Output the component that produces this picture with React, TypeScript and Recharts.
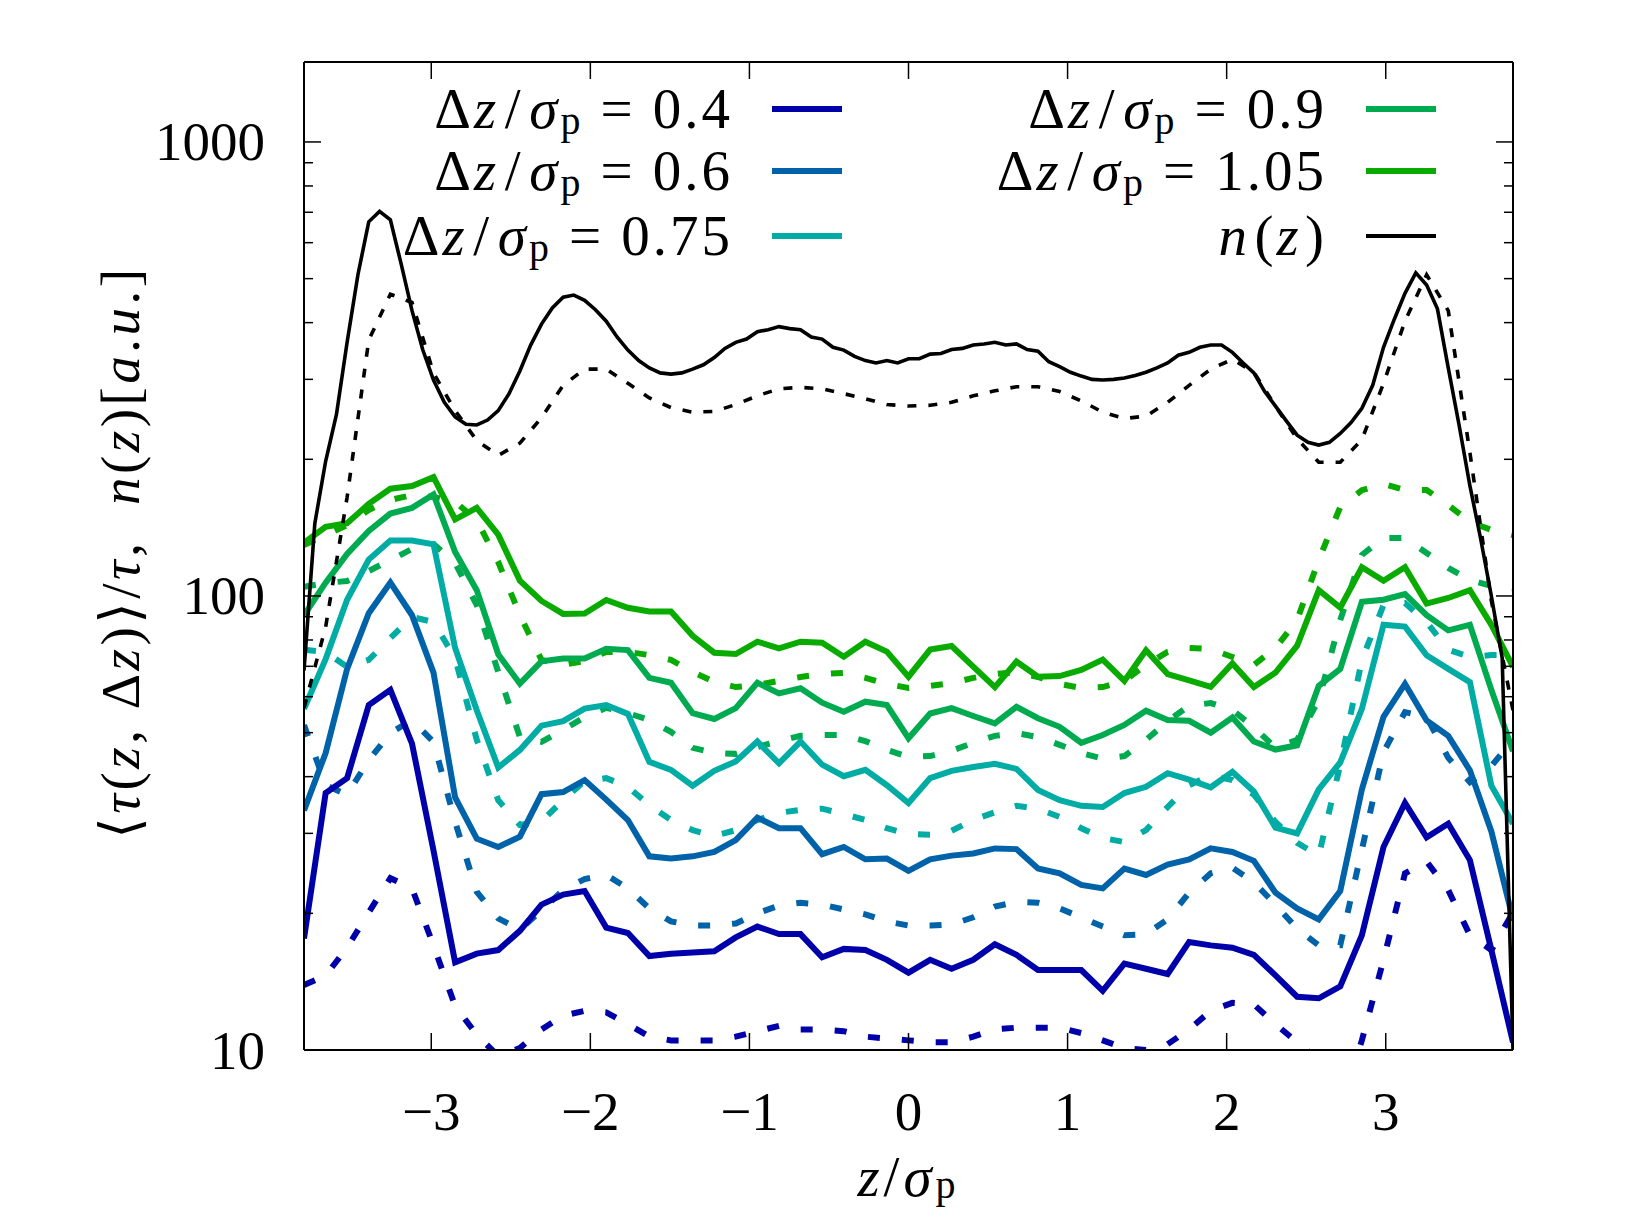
import React from 'react';
import { LineChart, Line, XAxis, YAxis, Legend } from 'recharts';

const FONT = '"Liberation Serif", "DejaVu Serif", serif';
const FS = 55;
const LFS = 57;

// z / sigma_p grid of the tau curves
const Z57 = [
  -3.8, -3.664, -3.529, -3.393, -3.257, -3.121, -2.986, -2.85, -2.714, -2.579,
  -2.443, -2.307, -2.171, -2.036, -1.9, -1.764, -1.629, -1.493, -1.357, -1.221,
  -1.086, -0.95, -0.814, -0.679, -0.543, -0.407, -0.271, -0.136, 0, 0.136,
  0.271, 0.407, 0.543, 0.679, 0.814, 0.95, 1.086, 1.221, 1.357, 1.493,
  1.629, 1.764, 1.9, 2.036, 2.171, 2.307, 2.443, 2.579, 2.714, 2.85,
  2.986, 3.121, 3.257, 3.393, 3.529, 3.664, 3.8,
];

// z / sigma_p grid of n(z)
const ZN = [
  -3.8, -3.732, -3.664, -3.596, -3.529, -3.461, -3.393, -3.325, -3.257, -3.189,
  -3.121, -3.054, -2.986, -2.918, -2.85, -2.782, -2.714, -2.646, -2.579, -2.511,
  -2.443, -2.375, -2.307, -2.239, -2.171, -2.104, -2.036, -1.968, -1.9, -1.832,
  -1.764, -1.696, -1.629, -1.561, -1.493, -1.425, -1.357, -1.289, -1.221, -1.154,
  -1.086, -1.018, -0.95, -0.882, -0.814, -0.746, -0.679, -0.611, -0.543, -0.475,
  -0.407, -0.339, -0.271, -0.204, -0.136, -0.068, 0, 0.068, 0.136, 0.204,
  0.271, 0.339, 0.407, 0.475, 0.543, 0.611, 0.679, 0.746, 0.814, 0.882,
  0.95, 1.018, 1.086, 1.154, 1.221, 1.289, 1.357, 1.425, 1.493, 1.561,
  1.629, 1.696, 1.764, 1.832, 1.9, 1.968, 2.036, 2.104, 2.171, 2.239,
  2.307, 2.375, 2.443, 2.511, 2.579, 2.646, 2.714, 2.782, 2.85, 2.918,
  2.986, 3.054, 3.121, 3.189, 3.257, 3.325, 3.393, 3.461, 3.529, 3.596,
  3.664, 3.732, 3.8,
];

// Delta z / sigma_p = 0.4
const TAU_04 = [
  17.6, 36.8, 39.7, 57.5, 62.1, 47.3, 27.5, 15.6, 16.3, 16.6,
  18.3, 20.9, 22, 22.4, 18.6, 18.1, 16.1, 16.3, 16.4, 16.5,
  17.7, 18.7, 18, 18, 16, 16.7, 16.6, 15.8, 14.8, 15.8,
  15.1, 15.8, 17.1, 16.2, 15, 15, 15, 13.5, 15.5, 15.1,
  14.7, 17.3, 17, 16.8, 16.2, 14.6, 13.1, 13, 13.8, 17.9,
  28, 35, 29.4, 31.5, 26.2, 16.6, 10.4,
];
const TAU_04_FIT = [
  13.9, 14.6, 16.8, 20.1, 23.9, 22.7, 17, 12.5, 10.8, 9.7,
  10.1, 11.1, 11.9, 12.2, 12.1, 11.4, 10.7, 10.5, 10.5, 10.5,
  10.7, 11, 11.3, 11.1, 11.1, 11, 10.7, 10.6, 10.5, 10.4,
  10.4, 10.7, 11.1, 11.2, 11.2, 11.2, 10.9, 10.5, 10.1, 10,
  10.3, 11.1, 12.2, 12.7, 12.6, 11.4, 10.4, 9.5, 7.4, 10.5,
  15.8, 24.5, 26, 22.5, 17.9, 16.6, 20.1,
];

// Delta z / sigma_p = 0.6
const TAU_06 = [
  33.7, 45.1, 69.1, 91.6, 107, 90.7, 67.8, 36, 29.2, 28,
  29.5, 36.6, 37, 39.3, 35.6, 32.1, 26.7, 26.4, 26.7, 27.3,
  29, 32.5, 30.8, 30.8, 27, 28, 26.3, 26.4, 24.8, 26.3,
  26.8, 27.1, 27.8, 27.7, 25.1, 24.5, 23.1, 22.7, 25.1, 24.3,
  25.6, 26.3, 27.8, 27.3, 26.1, 22.2, 20.5, 19.4, 22.4, 37.5,
  54.2, 64, 53.2, 49.2, 41.3, 30.3, 19.4,
];
const TAU_06_FIT = [
  52, 38.3, 36.5, 43.5, 49.9, 53.3, 47.7, 31.8, 22.3, 19.5,
  18.4, 20.3, 22.5, 23.8, 24.3, 22.7, 20.5, 19.2, 18.8, 18.8,
  19, 20, 20.8, 21.1, 20.9, 20.4, 19.9, 19.2, 18.8, 18.8,
  18.9, 19.6, 20.7, 21.2, 21.1, 20.5, 19.6, 18.7, 17.9, 18,
  19.4, 22.2, 24.5, 25.2, 23.4, 20.9, 18.5, 17, 17, 27.6,
  45.3, 55.5, 54.1, 44, 38.9, 42.2, 48.2,
];

// Delta z / sigma_p = 0.75
const TAU_075 = [
  56.4, 72.6, 98.1, 120.3, 132.5, 132.5, 130, 76.8, 56, 41.9,
  45.8, 51.8, 53, 56.5, 57.5, 55, 43.1, 41.4, 38.2, 41.2,
  43.2, 47.8, 42.8, 47.8, 42.5, 40.1, 41.4, 38.3, 35, 39.7,
  41.2, 42, 42.7, 41.6, 37.4, 35.5, 34.5, 34.3, 36.8, 38,
  40.7, 39.4, 37.9, 41, 37.1, 30.9, 30, 37.5, 43, 56.4,
  86.4, 85.6, 74, 69.1, 64.6, 38.2, 31.5,
];
const TAU_075_FIT = [
  76.1, 75.3, 69.8, 72.3, 80.8, 89.9, 87.6, 73, 48.2, 35.5,
  31.3, 31.9, 35.5, 39.1, 39.7, 38, 34.6, 32.1, 30.5, 29.6,
  30.5, 32.1, 33.3, 33.8, 34, 33.1, 32.1, 30.8, 29.9, 29.8,
  30.4, 32.1, 33.4, 34.5, 34, 32.6, 30.8, 29.3, 28.7, 30.5,
  34.3, 38.3, 40.3, 39.3, 36.5, 31.8, 28.6, 26.8, 42.5, 72.3,
  95.5, 96.5, 87.6, 76.1, 73.4, 74.1, 74.1,
];

// Delta z / sigma_p = 0.9
const TAU_09 = [
  90.7, 107, 123.8, 139.1, 151.9, 156.3, 167.3, 125, 103, 74.4,
  64.1, 71.8, 72.8, 72.8, 76.5, 76, 66, 64.4, 55.2, 53.6,
  56.6, 64.4, 61, 62.6, 58.2, 55.6, 58.5, 57.5, 48.6, 55.1,
  56.6, 54.4, 52.4, 57, 53.8, 51.5, 47.5, 49.4, 52, 55.9,
  53.3, 53.1, 50, 54, 47.8, 45.9, 46.9, 63.4, 69.1, 97.1,
  98.1, 101, 90.7, 84, 86.4, 62.1, 45.5,
];
const TAU_09_FIT = [
  104.7, 106.8, 107.9, 113.5, 120, 126.9, 130.2, 118.2, 95.5, 68,
  48.9, 47.7, 50.7, 54.1, 56.7, 55.2, 53.3, 50.2, 46.3, 45.1,
  44.9, 46.5, 47.9, 49.2, 49.4, 49.4, 47.9, 45.8, 44.2, 44.4,
  45.6, 47.5, 49.2, 49.9, 48.9, 47, 45.1, 43.8, 44.4, 48.2,
  53, 57.3, 58.1, 56.1, 51.4, 46.3, 48.2, 59, 88.5, 123.1,
  134.2, 134.2, 124.4, 115.3, 108.4, 105.2, 104.1,
];

// Delta z / sigma_p = 1.05
const TAU_105 = [
  131, 142, 144.6, 159.5, 172.3, 174.7, 182.7, 147.5, 156.3, 136.5,
  108.1, 97.5, 91.3, 91.5, 98, 94.2, 92.4, 92.4, 81.7, 75,
  74.5, 79.3, 76.7, 79.3, 78.9, 73.5, 79.3, 75.4, 66.4, 76.2,
  77.6, 69.9, 63, 71.7, 66.4, 66.6, 68.7, 72.4, 65, 75.9,
  67.3, 65.2, 63.1, 71, 63, 67.8, 77.7, 103, 94.3, 115.7,
  108, 115.7, 96.2, 99, 103, 86.4, 69.8,
];
const TAU_105_FIT = [
  129.5, 136.2, 143.3, 154.7, 162.7, 166.9, 165.2, 161.1, 147, 118.8,
  90.8, 72.3, 70.5, 71.9, 75.3, 75.3, 74.1, 72.3, 68, 64.7,
  63, 63.7, 65, 66.3, 67.3, 67.7, 66, 64, 62.7, 63.4,
  64.3, 66, 67.3, 68, 66.3, 64, 62.7, 63, 65, 70.5,
  75.3, 76.8, 76.4, 73.4, 70.5, 76.8, 88.5, 120, 157, 171,
  176.5, 171.2, 171.2, 158.6, 145.5, 139.8, 136.2,
];

// n(z)
const N_Z = [
  68.5, 144.5, 198, 251, 362, 510, 667, 703, 674, 538,
  425, 349, 299, 267, 248, 239, 238, 244, 256, 279,
  313, 357, 397, 431, 455, 460, 448, 427, 403, 372,
  348, 330, 318, 310, 308, 310, 316, 323, 335, 351,
  362, 368, 382, 386, 392, 388, 386, 372, 368, 353,
  348, 337, 330, 326, 330, 326, 333, 333, 341, 342,
  349, 351, 357, 359, 362, 357, 359, 349, 346, 328,
  320, 311, 305, 300, 299, 300, 302, 306, 311, 318,
  326, 339, 344, 353, 357, 357, 344, 326, 310, 282,
  262, 243, 226, 218, 215, 218, 228, 241, 259, 291,
  353, 407, 464, 515, 484, 429, 318, 238, 175, 134,
  100, 73, 10,
];
const N_Z_FIT = [
  56.7, 85.4, 165, 366, 462, 443, 310, 256, 220, 204,
  217, 247, 291, 316, 316, 294, 273, 260, 254, 255,
  264, 276, 286, 288, 286, 279, 272, 264, 262, 263,
  267, 276, 283, 289, 289, 282, 269, 254, 246, 249,
  267, 291, 316, 332, 311, 262, 222, 197, 197, 221,
  294, 403, 510, 425, 207, 97.5, 56,
];

const X_TICKS = [-3, -2, -1, 0, 1, 2, 3];
const X_TICK_LABELS = ['\u22123', '\u22122', '\u22121', '0', '1', '2', '3'];
const Y_TICKS = [10, 20, 30, 40, 50, 60, 70, 80, 90, 100, 200, 300, 400, 500, 600, 700, 800, 900, 1000];
const Y_MAJOR = [10, 100, 1000];
const Y_TICK_LABELS = ['10', '100', '1000'];

const LEGEND_ORDER = ['0.4', '0.6', '0.75', '0.9', '1.05', 'n(z)'];

const C04 = '#0000aa';
const C06 = '#0062a8';
const C075 = '#00aca4';
const C09 = '#00ab50';
const C105 = '#0aab00';

const rows = Z57.map((z, i) => ({
  z,
  s04: TAU_04[i], d04: TAU_04_FIT[i],
  s06: TAU_06[i], d06: TAU_06_FIT[i],
  s075: TAU_075[i], d075: TAU_075_FIT[i],
  s09: TAU_09[i], d09: TAU_09_FIT[i],
  s105: TAU_105[i], d105: TAU_105_FIT[i],
  nfit: N_Z_FIT[i],
}));
const nRows = ZN.map((z, k) => ({ z, n: N_Z[k] }));

const PLOT = { left: 304, right: 1513, top: 62, bottom: 1050 };
const MAJOR_LEN = 17;
const MINOR_LEN = 9;

const XTickBottom = (props: any) => {
  const { x, y, payload } = props;
  const idx = X_TICKS.indexOf(payload.value);
  return (
    <g>
      <line x1={x} x2={x} y1={y} y2={y - MAJOR_LEN} stroke="#000" strokeWidth={1.5} />
      <text x={x} y={y + 61} textAnchor="middle" dominantBaseline="central" fontFamily={FONT} fontSize={FS} fill="#000">
        {idx >= 0 ? X_TICK_LABELS[idx] : ''}
      </text>
    </g>
  );
};

const XTickTop = (props: any) => {
  const { x, y } = props;
  return <line x1={x} x2={x} y1={y} y2={y + MAJOR_LEN} stroke="#000" strokeWidth={1.5} />;
};

const YTickLeft = (props: any) => {
  const { x, y, payload } = props;
  const mi = Y_MAJOR.indexOf(payload.value);
  const len = mi >= 0 ? MAJOR_LEN : MINOR_LEN;
  return (
    <g>
      <line x1={x} x2={x + len} y1={y} y2={y} stroke="#000" strokeWidth={1.5} />
      {mi >= 0 && (
        <text x={x - 39} y={y} textAnchor="end" dominantBaseline="central" fontFamily={FONT} fontSize={FS} fill="#000">
          {Y_TICK_LABELS[mi]}
        </text>
      )}
    </g>
  );
};

const YTickRight = (props: any) => {
  const { x, y, payload } = props;
  const len = Y_MAJOR.indexOf(payload.value) >= 0 ? MAJOR_LEN : MINOR_LEN;
  return <line x1={x} x2={x - len} y1={y} y2={y} stroke="#000" strokeWidth={1.5} />;
};

const XTitle = (props: any) => {
  const vb = props.viewBox;
  const cx = vb && vb.width ? vb.x + vb.width / 2 : 908;
  const cy = vb && vb.height ? vb.y + 126 : 1176;
  return (
    <text x={cx} y={cy} textAnchor="middle" dominantBaseline="central" fontFamily={FONT} fontSize={57} fill="#000" letterSpacing={4}>
      <tspan fontStyle="italic">z</tspan>
      <tspan>/</tspan>
      <tspan fontStyle="italic">σ</tspan>
      <tspan fontSize={40} dy={8}>p</tspan>
    </text>
  );
};

const YTitle = (props: any) => {
  const vb = props.viewBox;
  const cx = vb && vb.height ? vb.x - 124 : 120;
  const cy = vb && vb.height ? vb.y + vb.height / 2 - 4 : 552;
  return (
    <text
      x={cx}
      y={cy}
      transform={`rotate(-90, ${cx}, ${cy})`}
      textAnchor="middle"
      dominantBaseline="central"
      fontFamily={FONT}
      fontSize={FS}
      fill="#000"
      letterSpacing={3.5}
    >
      <tspan>⟨</tspan>
      <tspan fontStyle="italic">τ</tspan>
      <tspan>(</tspan>
      <tspan fontStyle="italic">z</tspan>
      <tspan>,{'\u00a0'}Δ</tspan>
      <tspan fontStyle="italic">z</tspan>
      <tspan>)⟩/</tspan>
      <tspan fontStyle="italic">τ</tspan>
      <tspan>,{'\u00a0\u00a0'}</tspan>
      <tspan fontStyle="italic">n</tspan>
      <tspan>(</tspan>
      <tspan fontStyle="italic">z</tspan>
      <tspan>)[</tspan>
      <tspan fontStyle="italic">a</tspan>
      <tspan>.</tspan>
      <tspan fontStyle="italic">u</tspan>
      <tspan>.]</tspan>
    </text>
  );
};

const renderLegendLabel = (name: string) => {
  if (name === 'n(z)') {
    return (
      <span>
        <i style={{ marginRight: '0.08em' }}>n</i>(<i style={{ marginRight: '0.06em' }}>z</i>)
      </span>
    );
  }
  return (
    <span>
      Δ<i>z</i>
      <span style={{ margin: '0 0.1em' }}>/</span>
      <i>σ</i>
      <span style={{ fontSize: '0.7em', position: 'relative', top: '0.14em' }}>p</span>
      <span style={{ margin: '0 0.3em' }}>=</span>
      {name}
    </span>
  );
};

const FALLBACK_LEGEND = [
  { name: '0.4', color: C04 },
  { name: '0.6', color: C06 },
  { name: '0.75', color: C075 },
  { name: '0.9', color: C09 },
  { name: '1.05', color: C105 },
  { name: 'n(z)', color: '#000' },
];

const LegendContent = (props: any) => {
  const payload = (props && props.payload ? props.payload : []).filter((p: any) => p && p.type !== 'none');
  let items = payload.length
    ? payload.map((p: any) => ({ name: String(p.value), color: p.color }))
    : FALLBACK_LEGEND.slice();
  items = items.filter((it: any) => LEGEND_ORDER.indexOf(it.name) >= 0);
  items.sort((a: any, b: any) => LEGEND_ORDER.indexOf(a.name) - LEGEND_ORDER.indexOf(b.name));
  const rowsY = [109, 171, 236];
  return (
    <div style={{ position: 'relative', width: 1625, height: 280 }}>
      {items.map((it: any, idx: number) => {
        const col = idx < 3 ? 0 : 1;
        const row = idx % 3;
        const textRight = col === 0 ? 733 : 1327;
        const lineLeft = col === 0 ? 772 : 1366;
        const cy = rowsY[row];
        const thick = it.name === 'n(z)' ? 4 : 6;
        return (
          <React.Fragment key={it.name}>
            <div
              style={{
                position: 'absolute',
                right: 1625 - textRight,
                top: cy - 30,
                height: 60,
                lineHeight: '60px',
                fontFamily: FONT,
                fontSize: LFS,
                letterSpacing: '3px',
                whiteSpace: 'nowrap',
                color: '#000',
              }}
            >
              {renderLegendLabel(it.name)}
            </div>
            <div
              style={{
                position: 'absolute',
                left: lineLeft,
                top: cy - thick / 2,
                width: 70,
                height: thick,
                background: it.color,
              }}
            />
          </React.Fragment>
        );
      })}
    </div>
  );
};

const COLORED_DASH = '12 22';
const BLACK_DASH = '9 12';

export default function App() {
  const common = { xAxisId: 'b', yAxisId: 'l', dot: false, isAnimationActive: false, type: 'linear' as const, activeDot: false };
  return (
    <div style={{ position: 'absolute', left: 0, top: 0, width: 1625, height: 1219, background: '#fff' }}>
      <LineChart
        width={1625}
        height={1219}
        data={rows}
        margin={{ top: PLOT.top - 1, right: 1625 - PLOT.right - 1, bottom: 1219 - PLOT.bottom - 60, left: PLOT.left - 60 }}
      >
        <XAxis
          xAxisId="b"
          type="number"
          dataKey="z"
          orientation="bottom"
          domain={[-3.8, 3.8]}
          allowDataOverflow
          ticks={X_TICKS}
          interval={0}
          height={60}
          tickSize={0}
          tickMargin={0}
          tickLine={false}
          axisLine={{ stroke: '#000', strokeWidth: 2 }}
          tick={(p: any) => <XTickBottom {...p} />}
          label={<XTitle />}
        />
        <XAxis
          xAxisId="t"
          type="number"
          dataKey="z"
          orientation="top"
          domain={[-3.8, 3.8]}
          allowDataOverflow
          ticks={X_TICKS}
          interval={0}
          height={1}
          tickSize={0}
          tickMargin={0}
          tickLine={false}
          axisLine={{ stroke: '#000', strokeWidth: 2 }}
          tick={(p: any) => <XTickTop {...p} />}
        />
        <YAxis
          yAxisId="l"
          type="number"
          orientation="left"
          scale="log"
          domain={[10, 1500]}
          allowDataOverflow
          ticks={Y_TICKS}
          interval={0}
          width={60}
          tickSize={0}
          tickMargin={0}
          tickLine={false}
          axisLine={{ stroke: '#000', strokeWidth: 2 }}
          tick={(p: any) => <YTickLeft {...p} />}
          label={<YTitle />}
        />
        <YAxis
          yAxisId="r"
          type="number"
          orientation="right"
          scale="log"
          domain={[10, 1500]}
          allowDataOverflow
          ticks={Y_TICKS}
          interval={0}
          width={1}
          tickSize={0}
          tickMargin={0}
          tickLine={false}
          axisLine={{ stroke: '#000', strokeWidth: 2 }}
          tick={(p: any) => <YTickRight {...p} />}
        />

        <Line {...common} dataKey="d04" stroke={C04} strokeWidth={6} strokeDasharray={COLORED_DASH} legendType="none" name="fit 0.4" />
        <Line {...common} dataKey="d06" stroke={C06} strokeWidth={6} strokeDasharray={COLORED_DASH} legendType="none" name="fit 0.6" />
        <Line {...common} dataKey="d075" stroke={C075} strokeWidth={6} strokeDasharray={COLORED_DASH} legendType="none" name="fit 0.75" />
        <Line {...common} dataKey="d09" stroke={C09} strokeWidth={6} strokeDasharray={COLORED_DASH} legendType="none" name="fit 0.9" />
        <Line {...common} dataKey="d105" stroke={C105} strokeWidth={6} strokeDasharray={COLORED_DASH} legendType="none" name="fit 1.05" />

        <Line {...common} dataKey="s04" stroke={C04} strokeWidth={6} name="0.4" />
        <Line {...common} dataKey="s06" stroke={C06} strokeWidth={6} name="0.6" />
        <Line {...common} dataKey="s075" stroke={C075} strokeWidth={6} name="0.75" />
        <Line {...common} dataKey="s09" stroke={C09} strokeWidth={6} name="0.9" />
        <Line {...common} dataKey="s105" stroke={C105} strokeWidth={6} name="1.05" />

        <Line {...common} dataKey="nfit" stroke="#000" strokeWidth={3.6} strokeDasharray={BLACK_DASH} legendType="none" name="fit n(z)" />
        <Line {...common} data={nRows} dataKey="n" stroke="#000" strokeWidth={3.6} name="n(z)" />

        <Legend
          content={(p: any) => <LegendContent {...p} />}
          layout="horizontal"
          verticalAlign="middle"
          align="center"
          wrapperStyle={{ position: 'absolute', left: 0, top: 0, width: 1625, height: 280, margin: 0, padding: 0 }}
        />
      </LineChart>
    </div>
  );
}
